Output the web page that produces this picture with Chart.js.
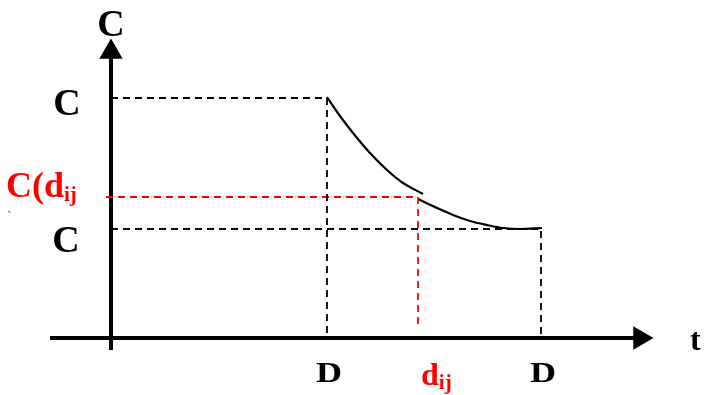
<!DOCTYPE html>
<html>
<head>
<meta charset="utf-8">
<script src="https://cdn.jsdelivr.net/npm/chart.js@4/dist/chart.umd.min.js"></script>
<style>
html,body{margin:0;padding:0;background:#fff;}
#wrap{width:705px;height:395px;position:relative;}
</style>
</head>
<body>
<div id="wrap"><canvas id="chart"></canvas></div>
<script>
// values (t across, C up)
const tMarks = [21.6, 30.7, 43.0];          // D, d_ij, D
const cMarks = [24.0, 14.1, 10.9];          // C, C(d_ij), C
const tLabels = ['D', 'd', 'D'];
const cLabels = ['C', 'C(d', 'C'];
const curveT1 = [21.6, 22.9, 24.2, 25.9, 27.6, 29.2, 31.2];
const curveC1 = [24.1, 22.2, 20.5, 18.5, 16.8, 15.5, 14.4];
const curveT2 = [30.7, 32.6, 34.2, 35.9, 37.6, 39.2, 40.9, 43.1];
const curveC2 = [13.9, 13.0, 12.3, 11.7, 11.3, 11.0, 10.9, 11.0];
const tRange = [-11.1, 59.4];
const cRange = [-5.7, 33.8];
const RED = '#ff0000';

function pts(xs, ys){ return xs.map((x,i)=>({x, y:ys[i]})); }

function dashed(data, color, width){
return {data, borderColor:color, borderWidth:width||1.8, borderDash:[7,5], pointRadius:0, fill:false, showLine:true};
}

// text with optional horizontal stretch (the source glyphs are a bit wide)
function stretchText(ctx, txt, x, y, sx){
ctx.save(); ctx.translate(x, y); ctx.scale(sx, 1); ctx.fillText(txt, 0, 0); ctx.restore();
}

const labelPlugin = {
id:'labels',
afterDatasetsDraw(chart){
const ctx = chart.ctx, xs = chart.scales.x, ys = chart.scales.y;
const x0 = xs.getPixelForValue(0), y0 = ys.getPixelForValue(0);
ctx.save();
ctx.textBaseline = 'alphabetic';
const serif = '"Liberation Serif","Times New Roman",serif';
// axis names
ctx.fillStyle = '#000'; ctx.textAlign = 'center';
ctx.font = 'bold 38px ' + serif;
ctx.fillText('C', x0, 36);
ctx.textAlign = 'left'; ctx.font = 'bold 32px ' + serif;
ctx.fillText('t', xs.getPixelForValue(57.9), y0 + 12);
// C levels
ctx.textAlign = 'center'; ctx.font = 'bold 38px ' + serif;
ctx.fillText(cLabels[0], x0 - 44, ys.getPixelForValue(cMarks[0]) + 17);
ctx.fillText(cLabels[2], x0 - 45, ys.getPixelForValue(cMarks[2]) + 23);
ctx.fillStyle = RED; ctx.textAlign = 'left';
ctx.font = 'bold 36px ' + serif;
const yr = ys.getPixelForValue(cMarks[1]);
ctx.fillText(cLabels[1], 6, yr);
const w = ctx.measureText(cLabels[1]).width;
ctx.font = 'bold 21px ' + serif;
ctx.fillText('ij', 6 + w, yr + 4);
ctx.font = '14px ' + serif;
ctx.fillText('`', 7, yr + 24);
// t marks
ctx.fillStyle = '#000'; ctx.textAlign = 'center';
ctx.font = 'bold 30px ' + serif;
stretchText(ctx, tLabels[0], xs.getPixelForValue(tMarks[0]) + 2, y0 + 44, 1.2);
stretchText(ctx, tLabels[2], xs.getPixelForValue(tMarks[2]) + 2, y0 + 44, 1.2);
ctx.fillStyle = RED; ctx.textAlign = 'left';
ctx.font = 'bold 32px ' + serif;
const xd = xs.getPixelForValue(tMarks[1]) + 3;
ctx.fillText(tLabels[1], xd, y0 + 47);
const wd = ctx.measureText(tLabels[1]).width;
ctx.font = 'bold 21px ' + serif;
ctx.fillText('ij', xd + wd, y0 + 51);
ctx.restore();
}
};

function init(){
const ctx = document.getElementById('chart').getContext('2d');
window.fishChart = new Chart(ctx, {
type:'scatter',
data:{datasets:[
dashed([{x:0,y:cMarks[0]},{x:tMarks[0],y:cMarks[0]},{x:tMarks[0],y:0.3}], '#000'),
dashed([{x:0,y:cMarks[2]},{x:tMarks[2],y:cMarks[2]},{x:tMarks[2],y:0.3}], '#000'),
dashed([{x:-0.5,y:cMarks[1]},{x:tMarks[1],y:cMarks[1]},{x:tMarks[1],y:1.1}], RED),
{data:pts(curveT1, curveC1), borderColor:'#000', borderWidth:2.2, pointRadius:0, showLine:true, tension:0.35},
{data:pts(curveT2, curveC2), borderColor:'#000', borderWidth:2.2, pointRadius:0, showLine:true, cubicInterpolationMode:'monotone'},
{data:[{x:0,y:-1.2},{x:0,y:28.6}], borderColor:'#000', borderWidth:4, showLine:true,
 pointRadius:[0,9.5], pointStyle:'triangle', rotation:0, pointBackgroundColor:'#000', pointBorderColor:'#000'},
{data:[{x:-6.1,y:0},{x:52.9,y:0}], borderColor:'#000', borderWidth:4, showLine:true,
 pointRadius:[0,9.5], pointStyle:'triangle', rotation:90, pointBackgroundColor:'#000', pointBorderColor:'#000'}
]},
options:{
responsive:true, maintainAspectRatio:false, animation:false,
layout:{padding:0, autoPadding:false},
plugins:{legend:{display:false}, tooltip:{enabled:false}},
scales:{
x:{type:'linear', display:false, min:tRange[0], max:tRange[1]},
y:{type:'linear', display:false, min:cRange[0], max:cRange[1]}
}
},
plugins:[labelPlugin]
});
}

window.addEventListener('load', init);
</script>
</body>
</html>
